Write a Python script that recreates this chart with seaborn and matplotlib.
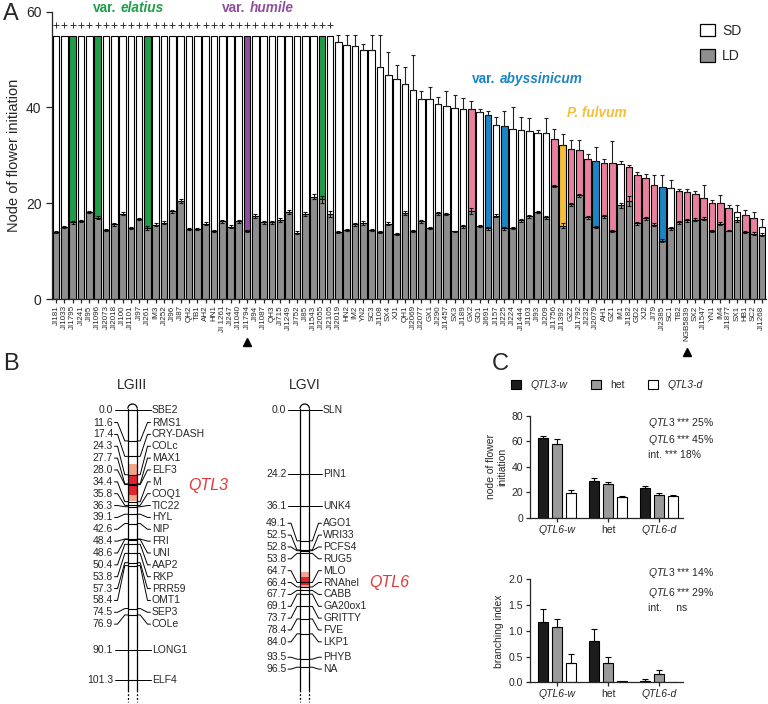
import numpy as np
import pandas as pd
import matplotlib
matplotlib.use('Agg')
import matplotlib.pyplot as plt
import seaborn as sns
from matplotlib.patches import Patch, Rectangle, Arc

sns.set_style('ticks')
plt.rcParams['font.family'] = ['Liberation Sans', 'DejaVu Sans']
plt.rcParams['axes.linewidth'] = 0.9
plt.rcParams['xtick.major.width'] = 0.9
plt.rcParams['ytick.major.width'] = 0.9
plt.rcParams['mathtext.fontset'] = 'custom'
plt.rcParams['mathtext.rm'] = 'Liberation Sans'
plt.rcParams['mathtext.it'] = 'Liberation Sans:italic'
plt.rcParams['mathtext.bf'] = 'Liberation Sans:bold'

# ---------------- data: panel A ----------------
accessions = ['JI181', 'JI1033', 'JI1795', 'JI241', 'JI95', 'JI1096', 'JI2073', 'JI2018', 'JI100', 'JI1101',
              'JI97', 'JI261', 'IM3', 'JI252', 'JI96', 'JI87', 'QH2', 'TB1', 'AH2', 'HN1',
              'JI 1261', 'JI247', 'JI1040', 'JI1794', 'JI94', 'JI1087', 'QH3', 'JI715', 'JI1249', 'JI752',
              'JI85', 'JI1543', 'JI2055', 'JI2105', 'JI2019', 'HN2', 'IM2', 'YN2', 'SC3', 'JI108',
              'SX4', 'XJ1', 'QH1', 'JI2069', 'JI2077', 'GX1', 'JI290', 'JI1457', 'SX3', 'JI189',
              'GX2', 'GD1', 'JI691', 'JI157', 'JI225', 'JI224', 'JI1444', 'JI103', 'JI93', 'JI209',
              'JI1756', 'JI1392', 'GZ2', 'JI1792', 'JI232', 'JI2079', 'AH1', 'GZ1', 'IM1', 'JI182',
              'GD2', 'XJ2', 'JI79', 'JI2385', 'SC1', 'TB2', 'NGB5839', 'SX2', 'JI1547', 'YN1',
              'IM4', 'JI1877', 'SX1', 'HB1', 'SC2', 'JI1268']

sd_node = [55, 55, 55, 55, 55, 55, 55, 55, 55, 55,
           55, 55, 55, 55, 55, 55, 55, 55, 55, 55,
           55, 55, 55, 55, 55, 55, 55, 55, 55, 55,
           55, 55, 55, 55, 53.7, 53.1, 52.9, 52.1, 51.9, 48.5,
           46.7, 45.9, 44.9, 43.6, 41.7, 41.7, 40.7, 40.4, 39.9, 39.7,
           39.7, 39.0, 38.5, 36.4, 36.1, 35.5, 35.3, 35.1, 34.7, 34.6,
           33.4, 32.2, 31.3, 31.1, 29.2, 28.8, 28.5, 28.5, 28.2, 27.6,
           25.9, 25.2, 23.9, 23.4, 23.2, 22.5, 22.4, 21.9, 21.0, 20.1,
           20.1, 19.1, 18.2, 17.6, 17.0, 15.0]

sd_err = [0, 0, 0, 0, 0, 0, 0, 0, 0, 0,
          0, 0, 0, 0, 0, 0, 0, 0, 0, 0,
          0, 0, 0, 0, 0, 0, 0, 0, 0, 0,
          0, 0, 0, 0, 1.5, 2.1, 2.3, 1.2, 3.3, 6.7,
          4.8, 2.9, 3.6, 7.3, 1.8, 2.5, 1.4, 3.0, 2.7, 2.2,
          1.7, 0.6, 0.7, 1.6, 3.2, 4.6, 2.7, 2.6, 0.6, 3.3,
          2.1, 2.2, 2.0, 2.1, 1.1, 2.9, 0.8, 4.6, 0.7, 0.3,
          0.7, 0.9, 1.9, 2.4, 1.6, 0.5, 0.6, 0.6, 2.8, 0.5,
          1.6, 0.5, 1.5, 1.0, 1.2, 1.7]

ld_node = [14.0, 15.1, 16.0, 16.3, 18.1, 17.0, 14.4, 15.6, 17.8, 14.8,
           16.7, 14.9, 15.5, 15.9, 18.3, 20.4, 14.7, 14.6, 15.7, 14.2,
           16.2, 15.1, 16.2, 14.2, 17.4, 16.0, 16.0, 16.5, 18.1, 13.8,
           17.8, 21.4, 20.8, 17.7, 14.0, 14.4, 15.6, 15.8, 14.4, 13.9,
           15.7, 13.5, 17.9, 14.2, 16.2, 14.8, 17.9, 17.7, 14.1, 15.2,
           18.4, 15.3, 14.8, 17.4, 14.8, 14.8, 16.4, 17.3, 18.1, 17.1,
           23.6, 15.3, 19.8, 21.7, 17.1, 15.1, 17.3, 14.2, 19.6, 20.5,
           15.8, 16.9, 15.5, 12.2, 14.8, 16.0, 16.4, 16.6, 16.8, 14.2,
           15.7, 14.3, 16.6, 14.0, 13.6, 13.4]

ld_err = [0.2, 0.2, 0.3, 0.3, 0.2, 0.3, 0.2, 0.3, 0.3, 0.2,
          0.3, 0.4, 0.3, 0.3, 0.3, 0.4, 0.2, 0.2, 0.3, 0.2,
          0.3, 0.3, 0.3, 0.2, 0.4, 0.3, 0.3, 0.4, 0.4, 0.3,
          0.4, 0.5, 0.7, 0.6, 0.3, 0.2, 0.3, 0.4, 0.2, 0.2,
          0.3, 0.2, 0.4, 0.2, 0.3, 0.2, 0.3, 0.2, 0.2, 0.3,
          0.6, 0.2, 0.3, 0.3, 0.3, 0.2, 0.3, 0.3, 0.2, 0.3,
          0.3, 0.5, 0.3, 0.3, 0.3, 0.2, 0.3, 0.2, 0.5, 1.0,
          0.3, 0.3, 0.3, 0.4, 0.3, 0.3, 0.3, 0.3, 0.3, 0.2,
          0.3, 0.2, 0.5, 0.3, 0.3, 0.3]

S, E, H, A, F, L = 'sativum', 'elatius', 'humile', 'abyssinicum', 'fulvum', 'landrace'
groups = [S, S, E, S, S, E, S, S, S, S,
          S, E, S, S, S, S, S, S, S, S,
          S, S, S, H, S, S, S, S, S, S,
          S, S, E, S, S, S, S, S, S, S,
          S, S, S, S, S, S, S, S, S, S,
          L, S, A, S, A, S, S, S, S, S,
          L, F, L, L, L, A, L, L, S, L,
          L, L, L, A, S, L, L, L, L, L,
          L, L, S, L, L, S]

parents = ['JI1794', 'NGB5839']

# ---------------- data: panel B ----------------
lg3_cm = [0.0, 11.6, 17.4, 24.3, 27.7, 28.0, 34.4, 35.8, 36.3, 39.1, 42.6, 48.4, 48.6,
          50.4, 53.8, 57.3, 58.4, 74.5, 76.9, 90.1, 101.3]
lg3_markers = ['SBE2', 'RMS1', 'CRY-DASH', 'COLc', 'MAX1', 'ELF3', 'M', 'COQ1', 'TIC22', 'HYL',
               'NIP', 'FRI', 'UNI', 'AAP2', 'RKP', 'PRR59', 'OMT1', 'SEP3', 'COLe', 'LONG1', 'ELF4']
qtl3_outer = (20.3, 34.0)
qtl3_inner = (24.3, 32.0)

lg6_cm = [0.0, 24.2, 36.1, 49.1, 52.5, 52.8, 53.8, 64.7, 66.4, 67.7, 69.1, 73.7, 78.4, 84.0, 93.5, 96.5]
lg6_markers = ['SLN', 'PIN1', 'UNK4', 'AGO1', 'WRI33', 'PCFS4', 'RUG5', 'MLO', 'RNAhel', 'CABB',
               'GA20ox1', 'GRITTY', 'FVE', 'LKP1', 'PHYB', 'NA']
qtl6_outer = (60.9, 66.4)
qtl6_inner = (62.5, 65.5)

# ---------------- data: panel C ----------------
qtl6_groups = ['QTL6-w', 'het', 'QTL6-d']
qtl3_genotypes = ['QTL3-w', 'het', 'QTL3-d']
node_qtl3w = [62.2, 29.2, 23.2]
node_qtl3w_err = [1.9, 1.8, 1.8]
node_het = [57.6, 26.6, 18.0]
node_het_err = [4.4, 1.3, 1.3]
node_qtl3d = [19.8, 16.4, 17.2]
node_qtl3d_err = [2.1, 0.5, 0.8]
br_qtl3w = [1.17, 0.81, 0.03]
br_qtl3w_err = [0.25, 0.23, 0.03]
br_het = [1.08, 0.38, 0.155]
br_het_err = [0.14, 0.11, 0.085]
br_qtl3d = [0.37, 0.03, 0.0]
br_qtl3d_err = [0.17, 0.0, 0.0]
node_stats = [('QTL3', '***', '25%'), ('QTL6', '***', '45%'), ('int.', '***', '18%')]
branch_stats = [('QTL3', '***', '14%'), ('QTL6', '***', '29%'), ('int.', '', 'ns')]

# ---------------- figure ----------------
W, Hpx = 768, 704
fig = plt.figure(figsize=(W / 100, Hpx / 100), dpi=100)


def fx(px):
    return px / W


def fy(py):
    return 1 - py / Hpx


GRAY = '#8e8e8e'
palA = {S: 'white', E: '#1f9e4a', H: '#8e4f9f', A: '#1c86c4', F: '#f5bf3c', L: '#e9819e'}

# ---------------- panel A ----------------
axA = fig.add_axes([fx(52), fy(299), (766 - 52) / W, (299 - 11.7) / Hpx])
dfA = pd.DataFrame({'accession': accessions, 'SD': sd_node, 'LD': ld_node, 'group': groups})
sns.barplot(data=dfA, x='accession', y='SD', hue='group', order=accessions, hue_order=list(palA),
            palette=palA, dodge=False, width=0.8, saturation=1, edgecolor='black', linewidth=0.8,
            errorbar=None, legend=False, ax=axA)
sns.barplot(data=dfA, x='accession', y='LD', order=accessions, color=GRAY, width=0.8, saturation=1,
            edgecolor='black', linewidth=0.8, errorbar=None, ax=axA)
xpos = np.arange(len(accessions))
sd = np.array(sd_node, float)
sde = np.array(sd_err, float)
m = sde > 0
axA.errorbar(xpos[m], sd[m], yerr=[np.zeros(m.sum()), sde[m]], fmt='none', ecolor='#222222',
             elinewidth=0.8, capsize=1.6, capthick=0.8, zorder=3)
axA.errorbar(xpos, ld_node, yerr=ld_err, fmt='none', ecolor='#111111', elinewidth=0.7,
             capsize=1.5, capthick=0.8, zorder=3)
capped = sd >= 55
axA.plot(xpos[capped], sd[capped] + 2.2, marker='+', ls='none', color='#333333', ms=4.5, mew=0.7,
         clip_on=False)
axA.set_xlim(-0.5, len(accessions) - 0.5)
axA.set_ylim(0, 60)
axA.set_yticks([0, 20, 40, 60])
axA.tick_params(axis='y', labelsize=10, length=4)
axA.set_xticks(xpos)
axA.set_xticklabels(accessions, rotation=90, fontsize=5.8,
                    family=['Liberation Sans Narrow', 'Liberation Sans'])
axA.tick_params(axis='x', length=3, pad=1.5)
axA.set_xlabel('')
axA.set_ylabel('')
sns.despine(ax=axA)
fig.text(fx(14), fy(155), 'Node of flower initiation', rotation=90, ha='center', va='center', fontsize=10.5)
trA = axA.get_xaxis_transform()
for p, ypx in zip(parents, [342, 352]):
    axA.plot([accessions.index(p)], [(299 - ypx) / 287.3], marker='^', color='black', ms=6,
             transform=trA, clip_on=False)

fig.legend(handles=[Patch(fc='white', ec='black', lw=0.9), Patch(fc=GRAY, ec='black', lw=0.9)],
           labels=['SD', 'LD'], loc='upper left', bbox_to_anchor=(fx(700), fy(24)), frameon=False,
           fontsize=10, handlelength=1.1, handleheight=1.0, handletextpad=0.5, labelspacing=0.8,
           borderaxespad=0, borderpad=0)


def rich(x, y, parts, size, color='black', weight='normal'):
    """parts: list of (text, style); pieces are chained left to right."""
    s0, st0 = parts[0]
    t = fig.text(fx(x), fy(y), s0, fontsize=size, color=color, fontweight=weight, fontstyle=st0,
                 ha='left', va='center')
    for s_, st in parts[1:]:
        t = axA.annotate(s_, xy=(1, 0.5), xycoords=t, xytext=(size * 0.3, 0), textcoords='offset points',
                         ha='left', va='center', annotation_clip=False, fontsize=size, color=color,
                         fontweight=weight, fontstyle=st)
    return t


rich(93, 8, [('var.', 'normal'), ('elatius', 'italic')], 9.8, palA[E], 'bold')
rich(222, 8, [('var.', 'normal'), ('humile', 'italic')], 9.8, palA[H], 'bold')
rich(472, 79, [('var.', 'normal'), ('abyssinicum', 'italic')], 9.8, palA[A], 'bold')
rich(567, 113, [('P. fulvum', 'italic')], 9.8, palA[F], 'bold')

# ---------------- panel B ----------------
PX_PER_CM = 2.665
GAP = 4.45
axB = fig.add_axes([0, 0, 500 / W, 324 / Hpx])
axB.set_xlim(0, 500)
axB.set_ylim((704 - 410) / PX_PER_CM, (380 - 410) / PX_PER_CM)
axB.axis('off')


def spread_labels(vals, gap):
    vals = np.asarray(vals, float)
    n = len(vals)
    y = vals - gap * np.arange(n)
    blocks = []
    for v in y:
        blocks.append([v, 1])
        while len(blocks) > 1 and blocks[-2][0] / blocks[-2][1] > blocks[-1][0] / blocks[-1][1]:
            s_, c_ = blocks.pop()
            blocks[-1][0] += s_
            blocks[-1][1] += c_
    q = np.concatenate([[s_ / c_] * c_ for s_, c_ in blocks])
    return q + gap * np.arange(n)


def draw_lg(ax, cx, cm, names, title, outer, inner, qname, qx, xl, xr):
    hw = 4.7
    cap = hw / PX_PER_CM
    top = -2.25
    bot = 105
    dash_end = 109.5
    ax.add_patch(Rectangle((cx - hw, top + cap), 2 * hw, bot - top - cap, fc='white', ec='none', zorder=1))
    ax.add_patch(Rectangle((cx - hw, outer[0]), 2 * hw, outer[1] - outer[0], fc='#f4a48c', ec='none', zorder=2))
    ax.add_patch(Rectangle((cx - hw, inner[0]), 2 * hw, inner[1] - inner[0], fc='#e1252b', ec='none', zorder=2))
    for side in (-1, 1):
        ax.plot([cx + side * hw] * 2, [top + cap, bot], color='black', lw=0.9, zorder=4)
        ax.plot([cx + side * hw] * 2, [bot, dash_end], color='black', lw=0.9, ls=(0, (1.5, 1.5)), zorder=4)
    ax.add_patch(Arc((cx, top + cap), 2 * hw, 2 * cap, theta1=180, theta2=360, color='black', lw=0.9, zorder=4))
    for mk in cm:
        ax.plot([cx - hw, cx + hw], [mk, mk], color='black', lw=0.8, zorder=3)
    lab = spread_labels(cm, GAP)
    for mk, p, nm in zip(cm, lab, names):
        ax.text(xl, p, f'{mk:.1f}', ha='right', va='center', fontsize=7.5)
        ax.plot([xl + 1.5, xl + 4.5, cx - hw - 3, cx - hw], [p, p, mk, mk], color='black', lw=0.7)
        ax.plot([cx + hw, cx + hw + 3, xr - 4.5, xr - 1.5], [mk, mk, p, p], color='black', lw=0.7)
        ax.text(xr, p, nm, ha='left', va='center', fontsize=7.5)
    ax.text(cx, (385 - 410) / PX_PER_CM, title, ha='center', va='center', fontsize=10)
    ax.text(qx, (outer[0] + outer[1]) / 2 + 1, qname, ha='center', va='center', fontsize=11.5,
            style='italic', color='#e5383b')


draw_lg(axB, 132.5, lg3_cm, lg3_markers, 'LGIII', qtl3_outer, qtl3_inner, 'QTL3', 208, 113, 152)
draw_lg(axB, 304.7, lg6_cm, lg6_markers, 'LGVI', qtl6_outer, qtl6_inner, 'QTL6', 389, 286.5, 323)


# ---------------- panel C ----------------
def panel_c(ax, vals, errs, ylim, yticks, ylabel, fmt):
    rows = []
    for gi, g3 in enumerate(qtl3_genotypes):
        for j, g6 in enumerate(qtl6_groups):
            rows.append((g6, g3, vals[gi][j]))
    df = pd.DataFrame(rows, columns=['QTL6', 'QTL3', 'value'])
    sns.barplot(data=df, x='QTL6', y='value', hue='QTL3', order=qtl6_groups, hue_order=qtl3_genotypes,
                palette=['#1c1c1c', '#9a9a9a', 'white'], saturation=1, width=0.83, gap=0.34,
                edgecolor='black', linewidth=0.8, errorbar=None, legend=False, ax=ax)
    slot = 0.83 / 3
    for bar in list(ax.patches):
        xc = bar.get_x() + bar.get_width() / 2
        j = int(round(xc))
        gi = int(round((xc - j) / slot)) + 1
        e = errs[gi][j]
        if e > 0:
            ax.errorbar([xc], [bar.get_height()], yerr=[[0], [e]], fmt='none', ecolor='black',
                        elinewidth=0.8, capsize=2, capthick=0.8, zorder=3)
    ax.set_xlim(-0.53, 2.47)
    ax.set_ylim(*ylim)
    ax.set_yticks(yticks)
    ax.set_yticklabels([fmt.format(t) for t in yticks])
    ax.tick_params(axis='both', labelsize=7.5, length=3, pad=2)
    ax.set_xticks([0, 1, 2])
    ax.set_xticklabels(qtl6_groups)
    for k, t in enumerate(ax.get_xticklabels()):
        if k != 1:
            t.set_fontstyle('italic')
    ax.set_xlabel('')
    ax.set_ylabel(ylabel, fontsize=7.5, labelpad=3)
    sns.despine(ax=ax)


axC1 = fig.add_axes([fx(530), fy(518), (683 - 530) / W, (518 - 415.7) / Hpx])
panel_c(axC1, [node_qtl3w, node_het, node_qtl3d], [node_qtl3w_err, node_het_err, node_qtl3d_err],
        (0, 80), [0, 20, 40, 60, 80], 'node of flower\ninitiation', '{:.0f}')
axC2 = fig.add_axes([fx(530), fy(682.3), (683 - 530) / W, (682.3 - 579.3) / Hpx])
panel_c(axC2, [br_qtl3w, br_het, br_qtl3d], [br_qtl3w_err, br_het_err, br_qtl3d_err],
        (0, 2.0), [0, 0.5, 1.0, 1.5, 2.0], 'branching index', '{:.1f}')

legC = fig.legend(handles=[Patch(fc='#1c1c1c', ec='black', lw=0.8), Patch(fc='#9a9a9a', ec='black', lw=0.8),
                           Patch(fc='white', ec='black', lw=0.8)],
                  labels=qtl3_genotypes, loc='center left', bbox_to_anchor=(fx(511), fy(385)), ncol=3,
                  frameon=False, fontsize=7.5, handlelength=1.0, handleheight=1.0, handletextpad=0.9,
                  columnspacing=2.2, borderpad=0, borderaxespad=0)
for k, t in enumerate(legC.get_texts()):
    if k != 1:
        t.set_fontstyle('italic')


def stat_label(name, stars, pct):
    head = r'$\mathit{' + name + '}$' if name.startswith('QTL') else name
    if stars:
        return f'{head} {stars} {pct}'
    return f'{head}     {pct}'


for (nm, stars, pct), ypx in zip(node_stats, [423, 440, 455]):
    fig.text(fx(648), fy(ypx), stat_label(nm, stars, pct), fontsize=7.5, ha='left', va='center')
for (nm, stars, pct), ypx in zip(branch_stats, [573, 593, 608]):
    fig.text(fx(648), fy(ypx), stat_label(nm, stars, pct), fontsize=7.5, ha='left', va='center')

# panel letters
fig.text(fx(3), fy(14), 'A', fontsize=17, ha='left', va='center')
fig.text(fx(3), fy(364), 'B', fontsize=17, ha='left', va='center')
fig.text(fx(492), fy(364), 'C', fontsize=17, ha='left', va='center')

fig.savefig('out.png', dpi=100)
